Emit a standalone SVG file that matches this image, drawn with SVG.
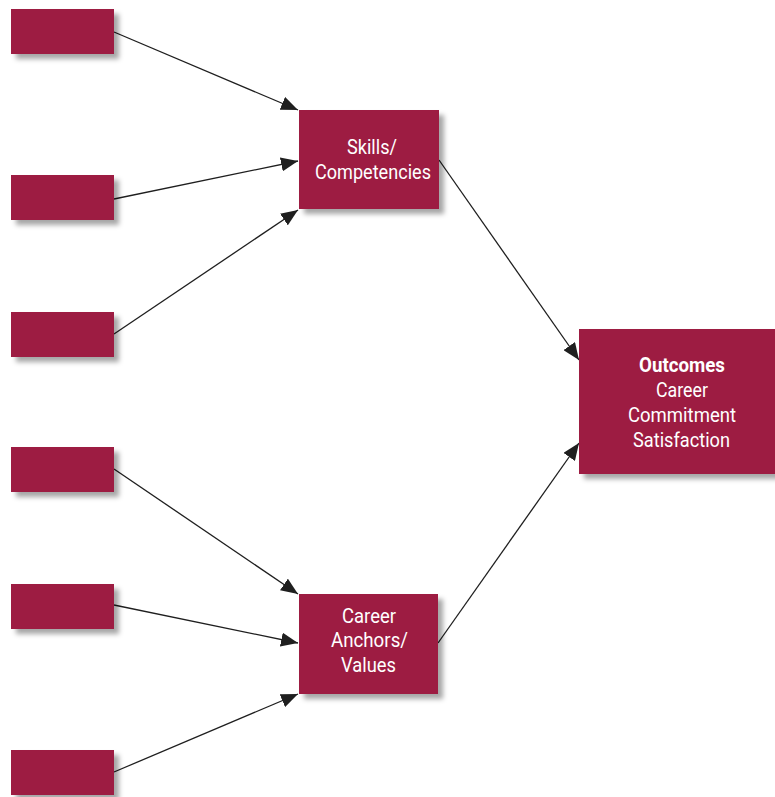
<svg xmlns="http://www.w3.org/2000/svg" width="775" height="797" viewBox="0 0 775 797">
  <defs>
    <filter id="shadow" x="-20%" y="-20%" width="150%" height="160%">
      <feGaussianBlur in="SourceAlpha" stdDeviation="2.5"/>
      <feOffset dx="5" dy="5" result="b"/>
      <feFlood flood-color="#000" flood-opacity="0.35"/>
      <feComposite in2="b" operator="in"/>
      <feMerge><feMergeNode/><feMergeNode in="SourceGraphic"/></feMerge>
    </filter>
    <marker id="arrow" markerUnits="userSpaceOnUse" markerWidth="18" markerHeight="14" refX="17" refY="7" orient="auto">
      <path d="M0,0 L17,7 L0,14 Z" fill="#1f1f1f"/>
    </marker>
  </defs>
  <style>
    .box { fill: #9d1b42; filter: url(#shadow); }
    .lbl { fill: #ffffff; font-family: Roboto, "Liberation Sans", sans-serif; font-size: 21px; text-anchor: middle; }
    .bold { font-weight: bold; }
    .conn line { stroke: #1f1f1f; stroke-width: 1.3; marker-end: url(#arrow); }
  </style>
  <rect width="775" height="797" fill="#ffffff"/>

  <g id="connectors" class="conn">
    <line x1="114" y1="32" x2="298" y2="110"/>
    <line x1="114" y1="199" x2="298" y2="161"/>
    <line x1="114" y1="334" x2="298" y2="210"/>
    <line x1="114" y1="469" x2="298" y2="594"/>
    <line x1="114" y1="605" x2="298" y2="643"/>
    <line x1="114" y1="772" x2="298" y2="694"/>
    <line x1="439" y1="160" x2="579" y2="360"/>
    <line x1="438" y1="643" x2="579" y2="443"/>
  </g>

  <g id="input1"><rect class="box" x="11" y="9" width="103" height="45"/></g>
  <g id="input2"><rect class="box" x="11" y="175" width="103" height="45"/></g>
  <g id="input3"><rect class="box" x="11" y="312" width="103" height="45"/></g>
  <g id="input4"><rect class="box" x="11" y="447" width="103" height="45"/></g>
  <g id="input5"><rect class="box" x="11" y="584" width="103" height="45"/></g>
  <g id="input6"><rect class="box" x="11" y="750" width="103" height="45"/></g>

  <g id="skills">
    <rect class="box" x="299" y="110" width="140" height="99"/>
    <text class="lbl" x="372" y="154" textLength="50" lengthAdjust="spacingAndGlyphs">Skills/</text>
    <text class="lbl" x="373" y="179" textLength="116" lengthAdjust="spacingAndGlyphs">Competencies</text>
  </g>

  <g id="anchors">
    <rect class="box" x="299" y="594" width="139" height="100"/>
    <text class="lbl" x="369" y="623" textLength="54" lengthAdjust="spacingAndGlyphs">Career</text>
    <text class="lbl" x="369.5" y="647" textLength="77" lengthAdjust="spacingAndGlyphs">Anchors/</text>
    <text class="lbl" x="368.5" y="672" textLength="55" lengthAdjust="spacingAndGlyphs">Values</text>
  </g>

  <g id="outcomes">
    <rect class="box" x="579" y="329" width="196" height="145"/>
    <text class="lbl bold" x="682" y="372" textLength="86" lengthAdjust="spacingAndGlyphs">Outcomes</text>
    <text class="lbl" x="682" y="397" textLength="52" lengthAdjust="spacingAndGlyphs">Career</text>
    <text class="lbl" x="682" y="422" textLength="108" lengthAdjust="spacingAndGlyphs">Commitment</text>
    <text class="lbl" x="681.5" y="447" textLength="97" lengthAdjust="spacingAndGlyphs">Satisfaction</text>
  </g>
</svg>
